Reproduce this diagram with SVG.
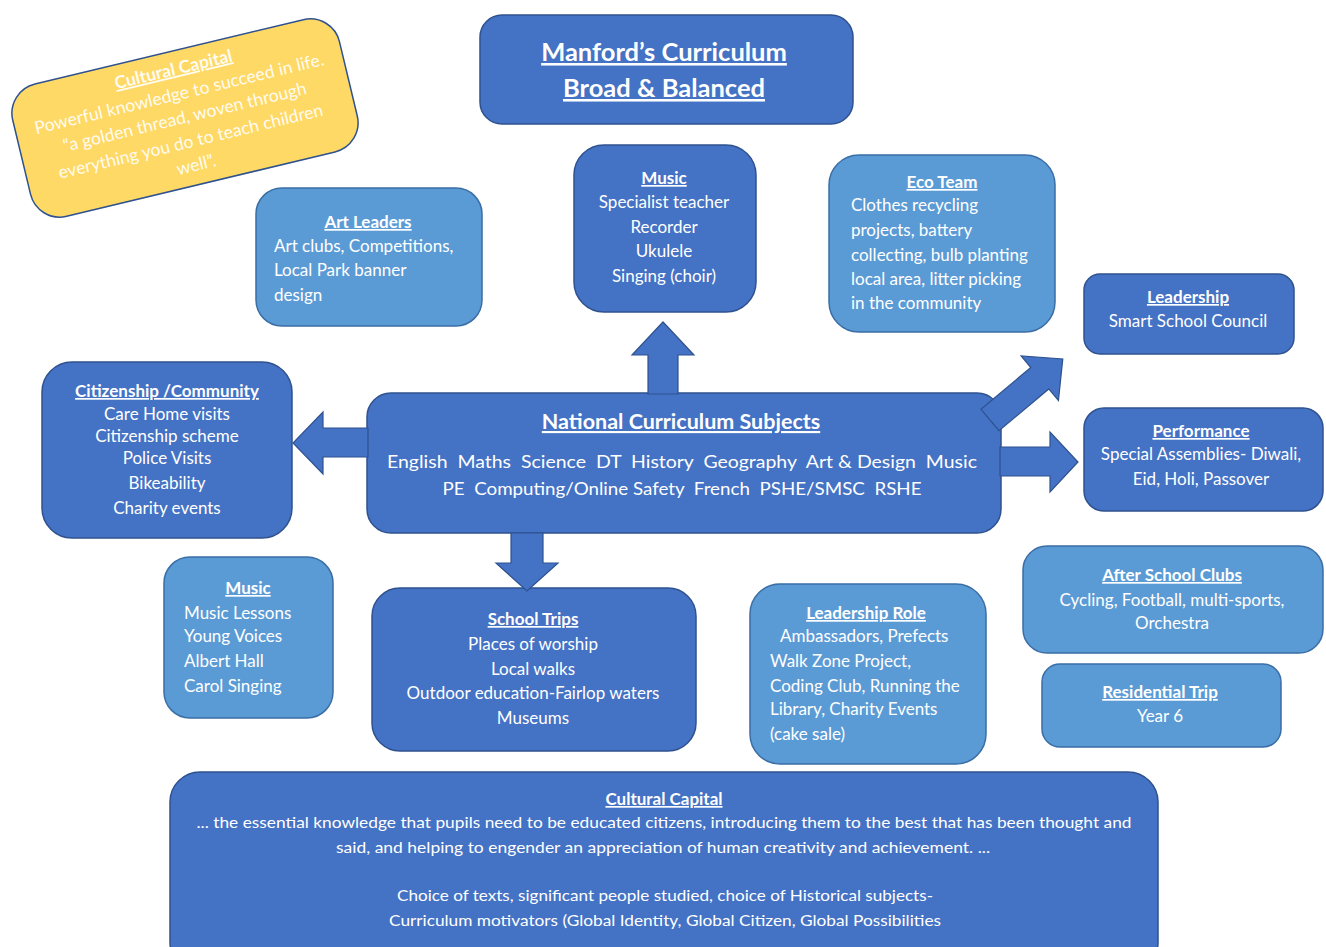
<svg xmlns="http://www.w3.org/2000/svg" width="1326" height="947" viewBox="0 0 1326 947">
<style>
.dk{fill:#4472C4;stroke:#2F528F;stroke-width:1.5}
.lt{fill:#5B9BD5;stroke:#3A6EA5;stroke-width:1.5}
.yl{fill:#FFD966;stroke:#2F528F;stroke-width:1.5}
.ar{fill:#4472C4;stroke:#2F528F;stroke-width:1.2}
text{font-family:Lato,"Open Sans","Liberation Sans",sans-serif;fill:#FFFFFF;font-size:17px}
.c{text-anchor:middle}
.h{font-weight:bold;text-decoration:underline}
.big{font-size:25.5px}
.nt{font-size:21.5px}
.ns{font-size:18px}
.bt{font-size:16px}
.yt{font-size:17.5px;fill-opacity:0.92}
</style>
<rect width="1326" height="947" fill="#FFFFFF"/>

<g id="cultural-capital-note" transform="translate(185,118) rotate(-13.5)">
<rect class="yl" x="-168" y="-68" width="336" height="136" rx="30"/>
<text class="c h yt" x="0" y="-44">Cultural Capital</text>
<text class="c yt" x="0" y="-19" textLength="297" lengthAdjust="spacingAndGlyphs">Powerful knowledge to succeed in life.</text>
<text class="c yt" x="0" y="5">“a golden thread, woven through</text>
<text class="c yt" x="0" y="30">everything you do to teach children</text>
<text class="c yt" x="0" y="54">well”.</text>
</g>

<g id="title">
<rect class="dk" x="480" y="15" width="373" height="109" rx="22"/>
<text class="c h big" x="664" y="61">Manford’s Curriculum</text>
<text class="c h big" x="664" y="97">Broad &amp; Balanced</text>
</g>

<g id="music-top">
<rect class="dk" x="574" y="145" width="182" height="167" rx="30"/>
<text class="c h" x="664" y="184">Music</text>
<text class="c" x="664" y="208">Specialist teacher</text>
<text class="c" x="664" y="233">Recorder</text>
<text class="c" x="664" y="257">Ukulele</text>
<text class="c" x="664" y="282">Singing (choir)</text>
</g>

<g id="art-leaders">
<rect class="lt" x="256" y="188" width="226" height="138" rx="26"/>
<text class="c h" x="368" y="228">Art Leaders</text>
<text x="274" y="252">Art clubs, Competitions,</text>
<text x="274" y="276">Local Park banner</text>
<text x="274" y="301">design</text>
</g>

<g id="eco-team">
<rect class="lt" x="829" y="155" width="226" height="177" rx="30"/>
<text class="c h" x="942" y="188">Eco Team</text>
<text x="851" y="211">Clothes recycling</text>
<text x="851" y="236">projects, battery</text>
<text x="851" y="261">collecting, bulb planting</text>
<text x="851" y="285">local area, litter picking</text>
<text x="851" y="309">in the community</text>
</g>

<g id="leadership">
<rect class="dk" x="1084" y="274" width="210" height="80" rx="16"/>
<text class="c h" x="1188" y="303">Leadership</text>
<text class="c" x="1188" y="327">Smart School Council</text>
</g>

<g id="citizenship">
<rect class="dk" x="42" y="362" width="250" height="176" rx="30"/>
<text class="c h" x="167" y="397">Citizenship /Community</text>
<text class="c" x="167" y="420">Care Home visits</text>
<text class="c" x="167" y="442">Citizenship scheme</text>
<text class="c" x="167" y="464">Police Visits</text>
<text class="c" x="167" y="489">Bikeability</text>
<text class="c" x="167" y="514">Charity events</text>
</g>

<g id="national-curriculum">
<rect class="dk" x="367" y="393" width="634" height="140" rx="24"/>
<text class="c h nt" x="681" y="429">National Curriculum Subjects</text>
<text class="c ns" x="682" y="468" textLength="590" lengthAdjust="spacingAndGlyphs" xml:space="preserve">English  Maths  Science  DT  History  Geography  Art &amp; Design  Music</text>
<text class="c ns" x="682" y="495" textLength="479" lengthAdjust="spacingAndGlyphs" xml:space="preserve">PE  Computing/Online Safety  French  PSHE/SMSC  RSHE</text>
</g>

<g id="performance">
<rect class="dk" x="1084" y="408" width="239" height="103" rx="20"/>
<text class="c h" x="1201" y="437">Performance</text>
<text class="c" x="1201" y="460">Special Assemblies- Diwali,</text>
<text class="c" x="1201" y="485">Eid, Holi, Passover</text>
</g>

<g id="music-lessons">
<rect class="lt" x="164" y="557" width="169" height="161" rx="26"/>
<text class="c h" x="248" y="594">Music</text>
<text x="184" y="619">Music Lessons</text>
<text x="184" y="642">Young Voices</text>
<text x="184" y="667">Albert Hall</text>
<text x="184" y="692">Carol Singing</text>
</g>

<g id="school-trips">
<rect class="dk" x="372" y="588" width="324" height="163" rx="28"/>
<text class="c h" x="533" y="625">School Trips</text>
<text class="c" x="533" y="650">Places of worship</text>
<text class="c" x="533" y="675">Local walks</text>
<text class="c" x="533" y="699">Outdoor education-Fairlop waters</text>
<text class="c" x="533" y="724">Museums</text>
</g>

<g id="leadership-role">
<rect class="lt" x="750" y="584" width="236" height="180" rx="30"/>
<text class="c h" x="866" y="619">Leadership Role</text>
<text x="780" y="642">Ambassadors, Prefects</text>
<text x="770" y="667">Walk Zone Project,</text>
<text x="770" y="692">Coding Club, Running the</text>
<text x="770" y="715">Library, Charity Events</text>
<text x="770" y="740">(cake sale)</text>
</g>

<g id="after-school-clubs">
<rect class="lt" x="1023" y="546" width="300" height="107" rx="24"/>
<text class="c h" x="1172" y="581">After School Clubs</text>
<text class="c" x="1172" y="606">Cycling, Football, multi-sports,</text>
<text class="c" x="1172" y="629">Orchestra</text>
</g>

<g id="residential-trip">
<rect class="lt" x="1042" y="664" width="239" height="83" rx="18"/>
<text class="c h" x="1160" y="698">Residential Trip</text>
<text class="c" x="1160" y="722">Year 6</text>
</g>

<g id="cultural-capital">
<rect class="dk" x="170" y="772" width="988" height="200" rx="30"/>
<text class="c h" x="664" y="805">Cultural Capital</text>
<text class="c bt" x="664" y="828" textLength="935" lengthAdjust="spacingAndGlyphs">... the essential knowledge that pupils need to be educated citizens, introducing them to the best that has been thought and</text>
<text class="c bt" x="663" y="853" textLength="654" lengthAdjust="spacingAndGlyphs">said, and helping to engender an appreciation of human creativity and achievement. ...</text>
<text class="c bt" x="665" y="901" textLength="536" lengthAdjust="spacingAndGlyphs">Choice of texts, significant people studied, choice of Historical subjects-</text>
<text class="c bt" x="665" y="926" textLength="552" lengthAdjust="spacingAndGlyphs">Curriculum motivators (Global Identity, Global Citizen, Global Possibilities</text>
</g>

<g id="connectors">
<polygon class="ar" points="648,394 648,355 632,355 663,322 694,355 678,355 678,394"/>
<polygon class="ar" points="368,428 323,428 323,412 293,443 323,474 323,457 368,457"/>
<polygon class="ar" points="511,533 511,563 496,563 527,591 558,563 543,563 543,533"/>
<polygon class="ar" points="1000,447 1050,447 1050,432 1078,462 1050,492 1050,476 1000,476"/>
<polygon class="ar" transform="translate(990,420) rotate(-40)" points="0,-14 65,-14 65,-29 95,0 65,29 65,14 0,14"/>
</g>
</svg>
